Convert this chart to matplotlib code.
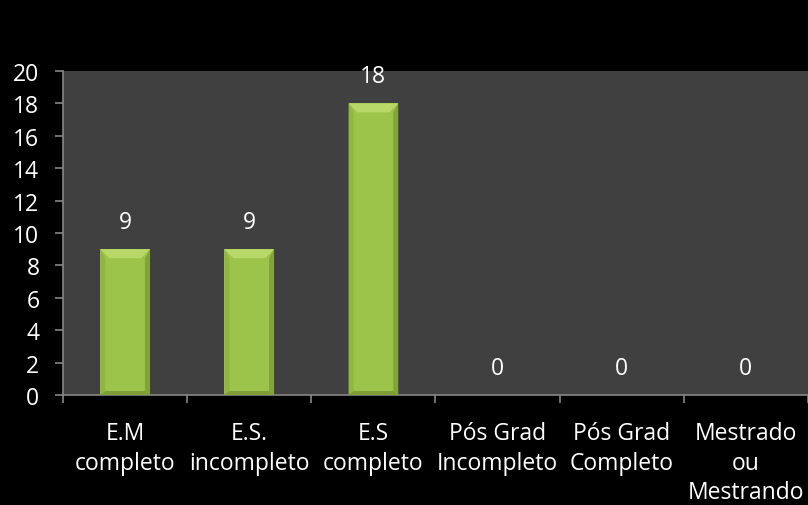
import matplotlib
matplotlib.use("Agg")
import matplotlib.pyplot as plt
from matplotlib.patches import Polygon

plt.rcParams['font.family'] = ['Open Sans', 'DejaVu Sans']

categories = ["E.M\ncompleto", "E.S.\nincompleto", "E.S\ncompleto",
              "Pós Grad\nIncompleto", "Pós Grad\nCompleto", "Mestrado\nou\nMestrando"]
values = [9, 9, 18, 0, 0, 0]
y_ticks = [0, 2, 4, 6, 8, 10, 12, 14, 16, 18, 20]

W, H, DPI = 808, 506, 100
FS = 16.5
fig = plt.figure(figsize=(W / DPI, H / DPI), dpi=DPI, facecolor="black")
ax = fig.add_axes([63 / W, 1 - 396 / H, 1 - 63 / W, (396 - 72) / H])
ax.set_facecolor("#404040")

x = list(range(len(categories)))
face = "#9dc44a"
bars = ax.bar(x, values, width=0.40, color=face, edgecolor="none", zorder=2)

ax.set_xlim(-0.5, len(categories) - 0.5)
ax.set_ylim(0, 20)

# bevel faces for each bar, sized in pixels and converted to data units
px_x = len(categories) / (W - 63)
px_y = 20 / (396 - 72)
bx, by = 9 * px_x, 9 * px_y
sx = 5 * px_x
for b in bars:
    h = b.get_height()
    if h <= 0:
        continue
    x0, x1 = b.get_x(), b.get_x() + b.get_width()
    top = h
    tb = min(by, h / 2)
    # top bevel (lighter)
    ax.add_patch(Polygon([(x0, top), (x1, top), (x1 - bx, top - tb), (x0 + bx, top - tb)],
                         closed=True, facecolor="#b8d96a", edgecolor="none", zorder=3))
    # left side
    ax.add_patch(Polygon([(x0, top), (x0 + sx, top - tb), (x0 + sx, 4 * px_y), (x0, 0)],
                         closed=True, facecolor="#90b641", edgecolor="none", zorder=3))
    # right side
    ax.add_patch(Polygon([(x1, top), (x1 - sx, top - tb), (x1 - sx, 4 * px_y), (x1, 0)],
                         closed=True, facecolor="#82a339", edgecolor="none", zorder=3))
    # bottom bevel
    ax.add_patch(Polygon([(x0, 0), (x1, 0), (x1 - sx, 4 * px_y), (x0 + sx, 4 * px_y)],
                         closed=True, facecolor="#7f9e37", edgecolor="none", zorder=3))

for xi, v in zip(x, values):
    ax.annotate(str(v), (xi, v), xytext=(0, 19.5), textcoords="offset points",
                ha="center", va="center", color="white", fontsize=FS)

for s in ["top", "right"]:
    ax.spines[s].set_visible(False)
for s in ["left", "bottom"]:
    ax.spines[s].set_color("#868686")
    ax.spines[s].set_linewidth(1.2)

ax.set_yticks(y_ticks)
ax.set_yticklabels([str(t) for t in y_ticks])
ax.tick_params(axis="y", colors="#868686", labelcolor="white", labelsize=FS,
               length=6, width=1.2, pad=11, direction="out")

ax.set_xticks(x)
ax.set_xticklabels(categories, linespacing=1.3)
ax.set_xticks([i - 0.5 for i in range(len(categories) + 1)], minor=True)
ax.tick_params(axis="x", which="major", length=0, labelcolor="white", labelsize=FS, pad=19)
ax.tick_params(axis="x", which="minor", length=6, width=1.2, color="#868686", direction="out")

fig.savefig("out.png", dpi=DPI, facecolor="black")
